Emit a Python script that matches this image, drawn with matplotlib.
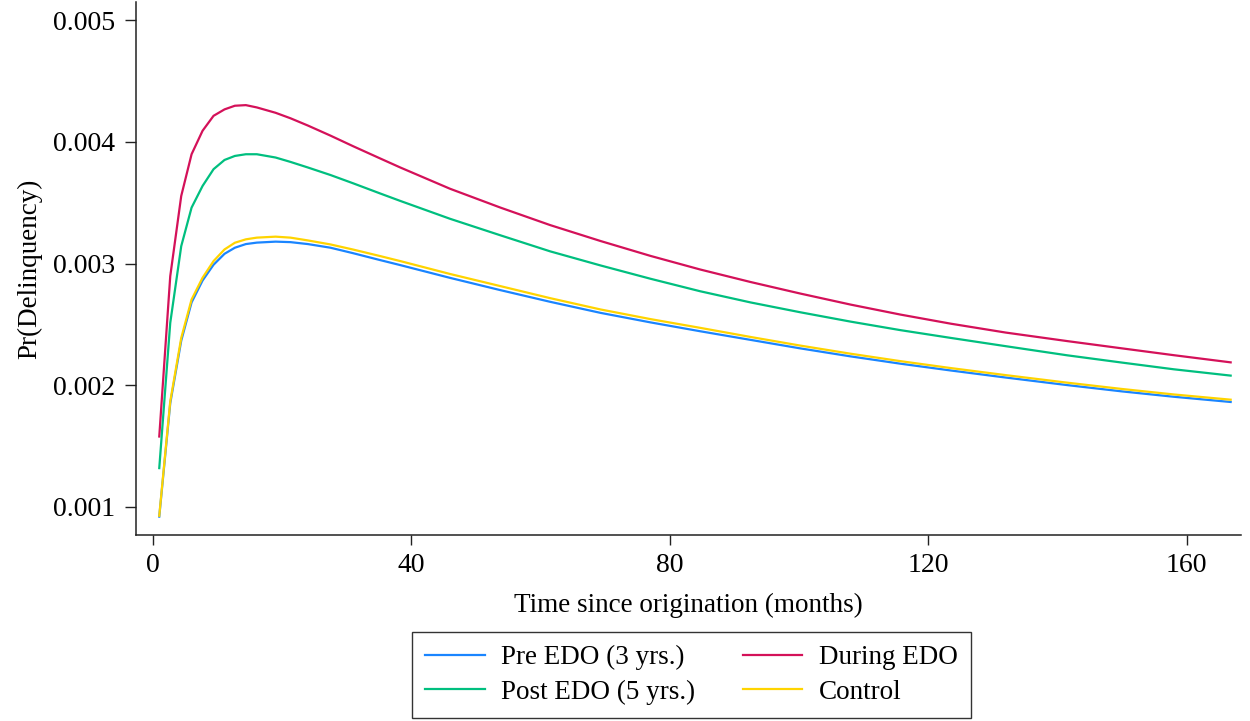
import matplotlib
matplotlib.use("Agg")
import matplotlib.pyplot as plt

months = [1.0, 2.7, 4.4, 6.0, 7.7, 9.4, 11.1, 12.7, 14.4, 16.1, 19.0, 21.3, 24.0,
          27.5, 31.0, 35.2, 38.3, 46.0, 53.8, 61.5, 69.3, 77.0, 84.7, 92.5, 100.2,
          108.0, 115.7, 123.5, 132.0, 141.5, 150.0, 158.0, 166.8]

pre_edo = [0.000918, 0.001850, 0.002365, 0.002680, 0.002860, 0.002990, 0.003080,
           0.003130, 0.003160, 0.003172, 0.003180, 0.003176, 0.003160, 0.003130,
           0.003085, 0.003028, 0.002987, 0.002882, 0.002781, 0.002685, 0.002594,
           0.002516, 0.002443, 0.002372, 0.002302, 0.002236, 0.002176, 0.002120,
           0.002062, 0.002000, 0.001948, 0.001904, 0.001861]

during_edo = [0.001577, 0.002896, 0.003556, 0.003899, 0.004092, 0.004215, 0.004268,
              0.004298, 0.004303, 0.004284, 0.004240, 0.004195, 0.004135, 0.004052,
              0.003965, 0.003864, 0.003790, 0.003615, 0.003460, 0.003316, 0.003185,
              0.003063, 0.002951, 0.002848, 0.002753, 0.002662, 0.002580, 0.002505,
              0.002432, 0.002362, 0.002302, 0.002246, 0.002187]

post_edo = [0.001317, 0.002512, 0.003143, 0.003460, 0.003638, 0.003776, 0.003852,
            0.003885, 0.003899, 0.003899, 0.003872, 0.003836, 0.003790, 0.003728,
            0.003660, 0.003576, 0.003515, 0.003368, 0.003232, 0.003100, 0.002984,
            0.002875, 0.002772, 0.002680, 0.002599, 0.002522, 0.002452, 0.002388,
            0.002320, 0.002245, 0.002185, 0.002130, 0.002078]

control = [0.000925, 0.001866, 0.002388, 0.002704, 0.002883, 0.003020, 0.003116,
           0.003171, 0.003199, 0.003213, 0.003221, 0.003213, 0.003190, 0.003157,
           0.003115, 0.003061, 0.003020, 0.002914, 0.002814, 0.002715, 0.002622,
           0.002543, 0.002471, 0.002396, 0.002325, 0.002258, 0.002197, 0.002140,
           0.002082, 0.002020, 0.001968, 0.001923, 0.001880]

x_ticks = [0, 40, 80, 120, 160]
y_ticks = [0.001, 0.002, 0.003, 0.004, 0.005]
y_tick_labels = ["0.001", "0.002", "0.003", "0.004", "0.005"]

plt.rcParams['font.family'] = ['Liberation Serif', 'DejaVu Serif']

fig = plt.figure(figsize=(12.5, 7.21), dpi=100)
ax = fig.add_axes([0.1088, 0.258, 0.884, 0.739])

h_pre, = ax.plot(months, pre_edo, color='#1a85ff', lw=1.6, label='Pre EDO (3 yrs.)')
h_during, = ax.plot(months, during_edo, color='#d41159', lw=1.6, label='During EDO')
h_post, = ax.plot(months, post_edo, color='#00bf7f', lw=1.6, label='Post EDO (5 yrs.)')
h_ctrl, = ax.plot(months, control, color='#ffd400', lw=1.6, label='Control')
h_ctrl.set_zorder(2.1)

ax.set_xlim(-2.6, 168.4)
ax.set_ylim(0.000767, 0.00515)
ax.set_xticks(x_ticks)
ax.set_yticks(y_ticks)
ax.set_yticklabels(y_tick_labels)

for side in ['top', 'right']:
    ax.spines[side].set_visible(False)
for side in ['left', 'bottom']:
    ax.spines[side].set_linewidth(1.1)
    ax.spines[side].set_color('#222222')

ax.tick_params(axis='x', direction='out', length=7, width=1.0,
               labelsize=20, color='#222222', pad=6)
ax.tick_params(axis='y', direction='out', length=8, width=1.0,
               labelsize=20, color='#222222', pad=7)

ax.set_xlabel('Time since origination (months)', fontsize=19.5, labelpad=11)
ax.set_ylabel('Pr(Delinquency)', fontsize=19.5, labelpad=8)

leg = fig.legend(handles=[h_pre, h_post, h_during, h_ctrl], ncol=2,
                 loc='center', bbox_to_anchor=(0.5532, 0.0638),
                 fontsize=19.5, frameon=True, fancybox=False, edgecolor='black',
                 handlelength=2.2, handletextpad=0.6, columnspacing=1.75,
                 borderpad=0.5, labelspacing=0.35)
leg.get_frame().set_linewidth(1.0)

fig.savefig('out.png', dpi=100, facecolor='white')
